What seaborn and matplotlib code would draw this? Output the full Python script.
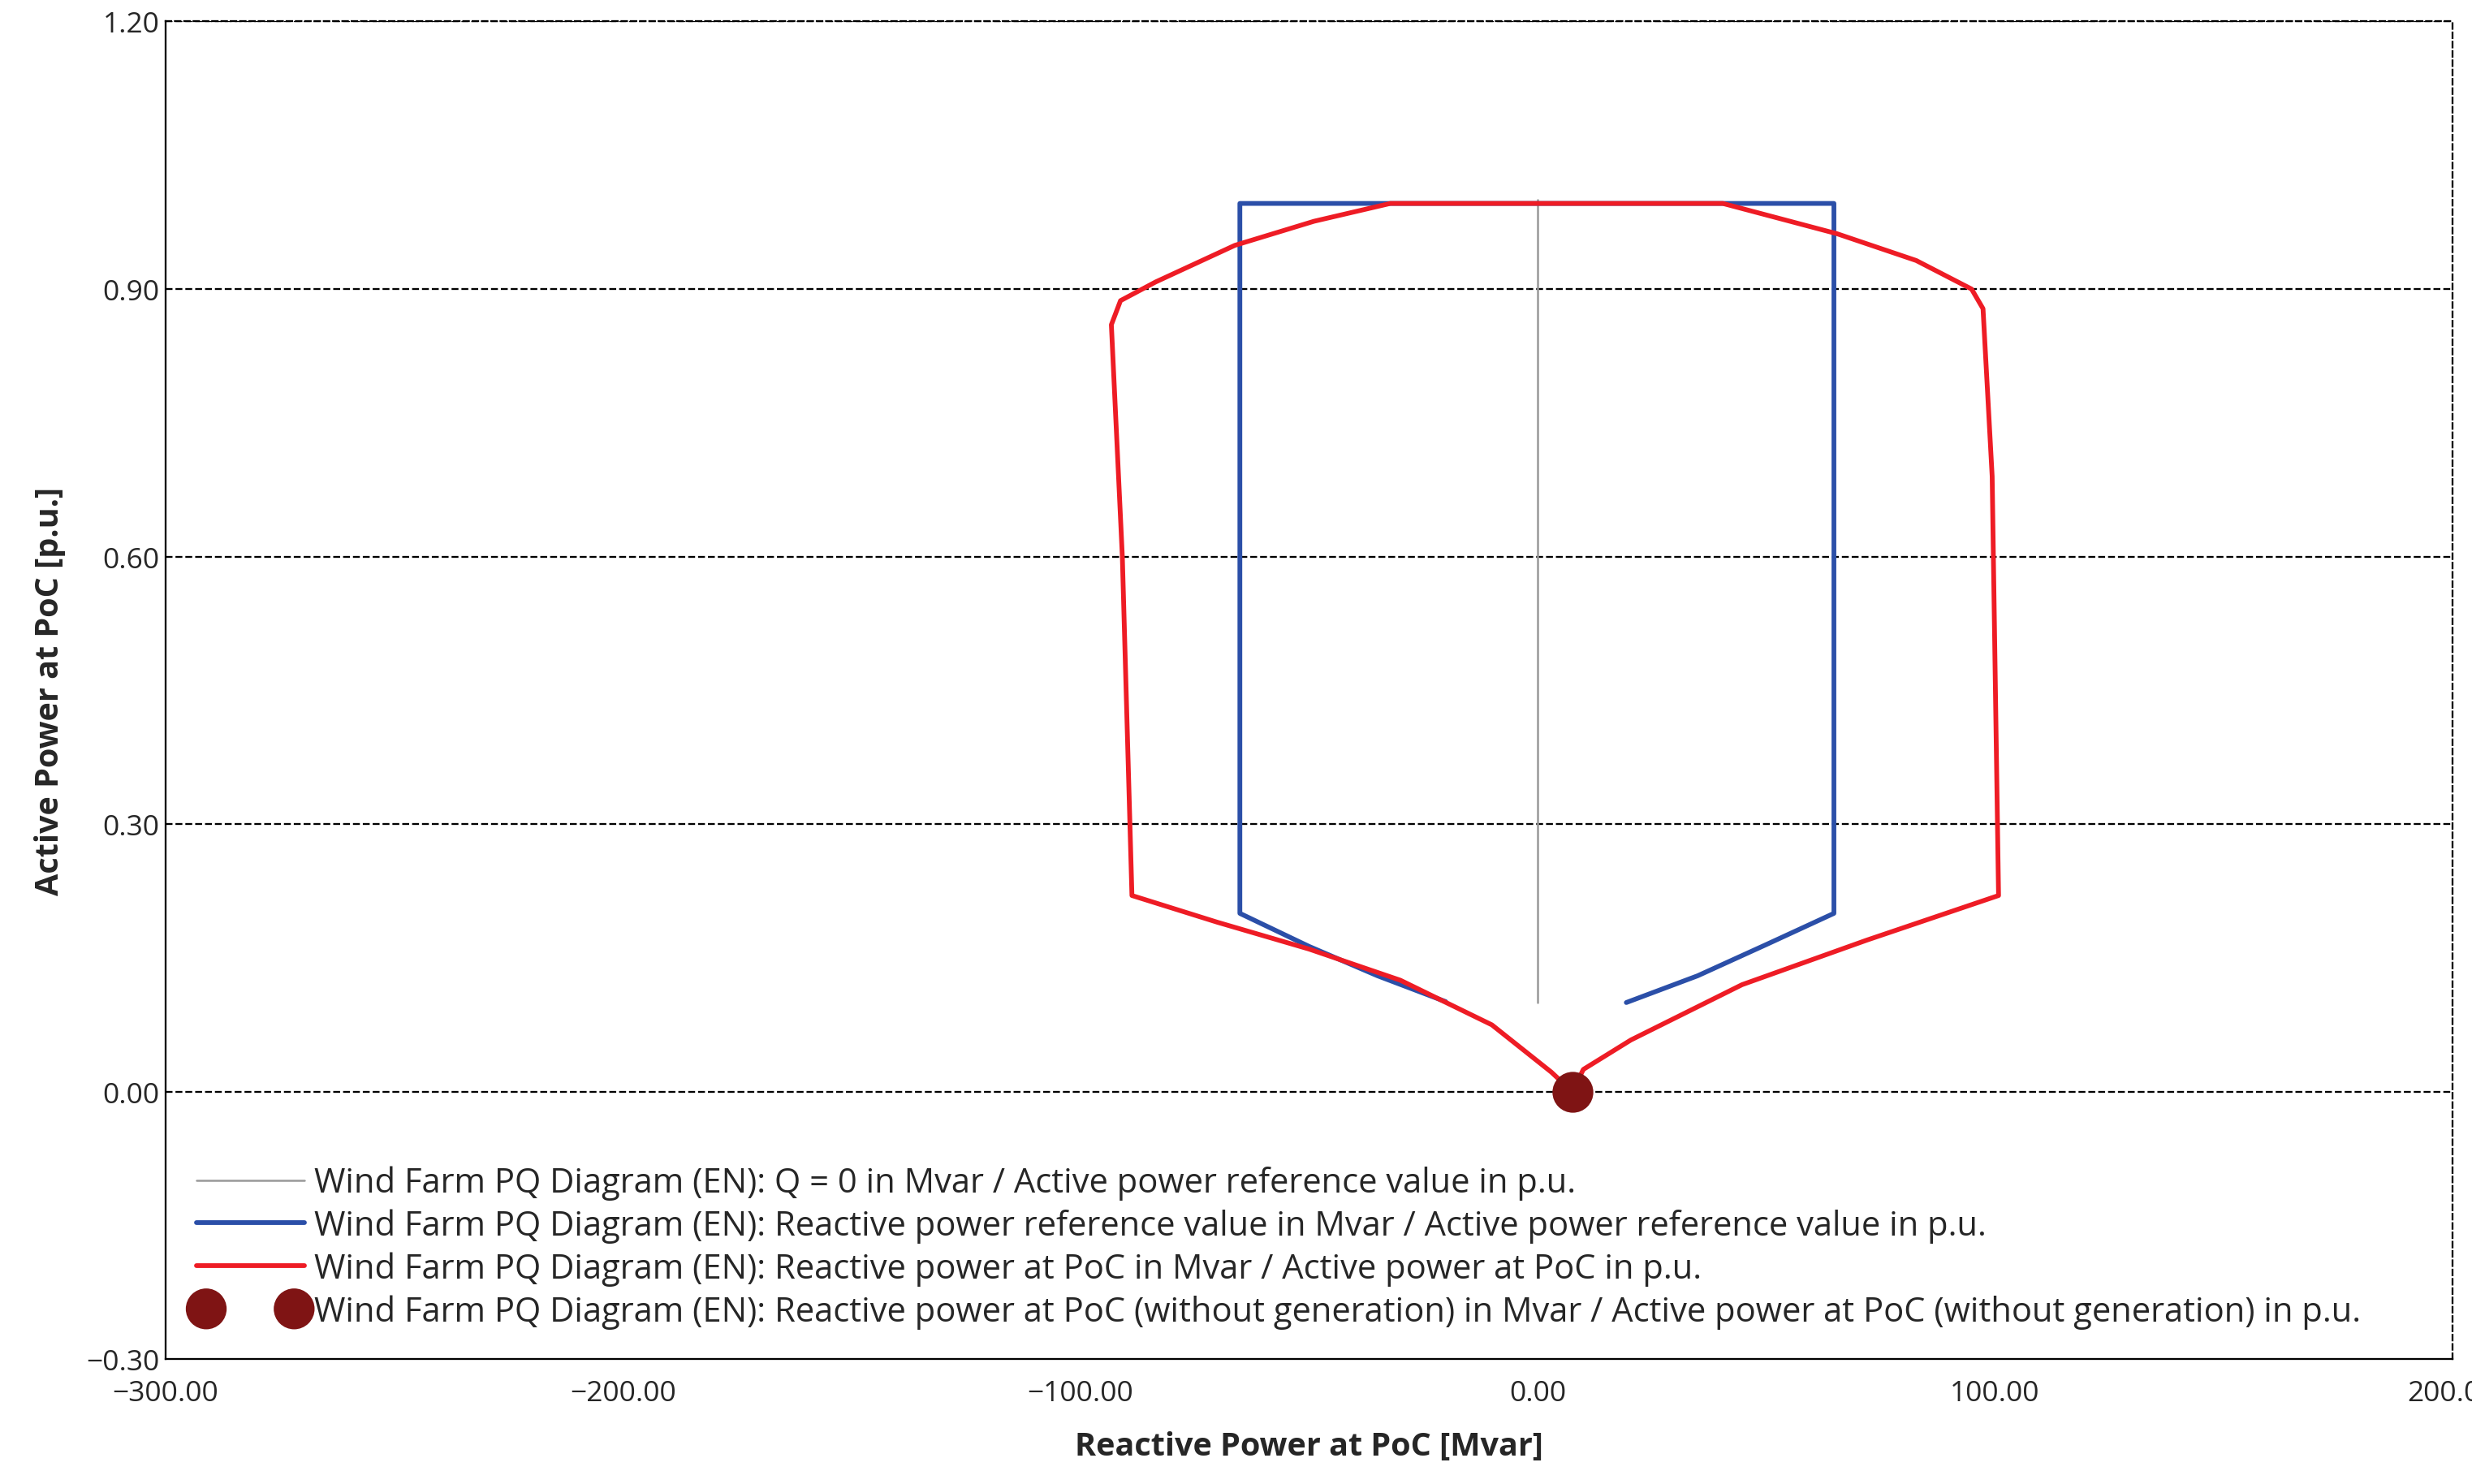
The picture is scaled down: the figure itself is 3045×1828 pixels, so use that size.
import numpy as np
import pandas as pd
import matplotlib
matplotlib.use("Agg")
import matplotlib.pyplot as plt
import seaborn as sns
from matplotlib.ticker import MultipleLocator

# data (Q in Mvar, P in p.u.)
q_zero = [0.0, 0.0]
p_zero = [0.1, 1.0]

q_ref = [-20.1, -35.0, -50.0, -65.1, -65.1, 64.8, 64.8, 50.0, 35.0, 19.4]
p_ref = [0.101, 0.130, 0.163, 0.200, 0.996, 0.996, 0.200, 0.165, 0.130, 0.100]

q_poc = [7.6, 3.0, -10.0, -30.0, -50.0, -70.0, -88.7, -90.8, -93.2, -91.2, -83.5,
         -66.2, -48.9, -32.2, 40.5, 65.5, 82.8, 94.9, 97.4, 99.4, 100.8,
         72.0, 44.7, 20.4, 10.0, 7.6]
p_poc = [0.0, 0.022, 0.075, 0.125, 0.160, 0.190, 0.220, 0.600, 0.860, 0.887, 0.908,
         0.949, 0.976, 0.996, 0.996, 0.962, 0.932, 0.900, 0.878, 0.690, 0.220,
         0.170, 0.120, 0.058, 0.025, 0.0]

q_nogen = [7.6]
p_nogen = [0.0]

labels = [
    "Wind Farm PQ Diagram (EN): Q = 0 in Mvar / Active power reference value in p.u.",
    "Wind Farm PQ Diagram (EN): Reactive power reference value in Mvar / Active power reference value in p.u.",
    "Wind Farm PQ Diagram (EN): Reactive power at PoC in Mvar / Active power at PoC in p.u.",
    "Wind Farm PQ Diagram (EN): Reactive power at PoC (without generation) in Mvar / Active power at PoC (without generation) in p.u.",
]

sns.set_style("white")
plt.rcParams["font.family"] = ["Open Sans", "DejaVu Sans"]

fig = plt.figure(figsize=(20.3, 12.193), dpi=150)
ax = fig.add_axes([0.067, 0.084, 0.925, 0.901])

ax.plot(q_zero, p_zero, color="#999999", lw=1.2, label=labels[0])
ax.plot(q_ref, p_ref, color="#2b4fa8", lw=2.8, label=labels[1])
ax.plot(q_poc, p_poc, color="#ee1c25", lw=2.8, label=labels[2])
sns.scatterplot(x=q_nogen, y=p_nogen, ax=ax, color="#7f1414", s=500,
                edgecolor="#7f1414", zorder=5, label=labels[3])

ax.set_xlim(-300, 200)
ax.set_ylim(-0.3, 1.2)
ax.xaxis.set_major_locator(MultipleLocator(100))
ax.xaxis.set_minor_locator(MultipleLocator(50))
ax.yaxis.set_major_locator(MultipleLocator(0.3))
ax.yaxis.set_minor_locator(MultipleLocator(0.15))
ax.xaxis.set_major_formatter(lambda v, p: f"{v:.2f}".replace("-", "\u2212"))
ax.yaxis.set_major_formatter(lambda v, p: f"{v:.2f}".replace("-", "\u2212"))
ax.tick_params(axis="both", which="major", labelsize=17, length=8, direction="in")
ax.tick_params(axis="both", which="minor", length=5, direction="in")
ax.tick_params(axis="x", pad=12)
xt = ax.get_xticklabels()
xt[-1].set_horizontalalignment("right")

for y in [0.0, 0.3, 0.6, 0.9, 1.2]:
    ax.axhline(y, color="black", ls="--", lw=1.1, zorder=0)
for s in ["top", "right"]:
    ax.spines[s].set_linestyle((0, (3, 2)))
for s in ax.spines.values():
    s.set_linewidth(1.1)
    s.set_color("black")

ax.set_xlabel("Reactive Power at PoC [Mvar]", fontsize=19, fontweight="bold", labelpad=14)
ax.set_ylabel("Active Power at PoC [p.u.]", fontsize=19, fontweight="bold", labelpad=12)

leg = ax.legend(loc="lower left", frameon=False, fontsize=20, handlelength=3.2,
                bbox_to_anchor=(0.0, 0.0), labelspacing=0.25, handletextpad=0.3,
                scatterpoints=2, scatteryoffsets=[0.5])
plt.savefig("out.png", dpi=150)
